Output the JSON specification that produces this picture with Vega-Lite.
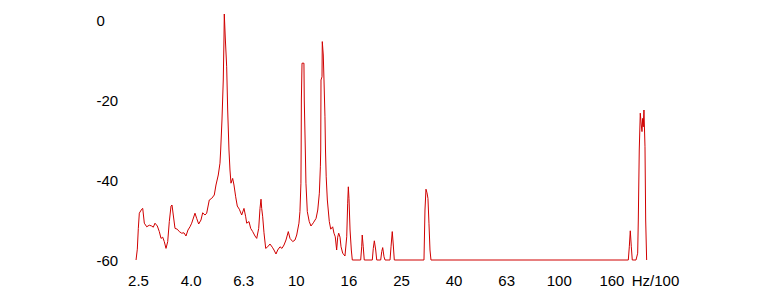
{
  "$schema": "https://vega.github.io/schema/vega-lite/v6.json",
  "width": 570,
  "height": 250,
  "autosize": "none",
  "padding": {"left": 130, "top": 10, "right": 84, "bottom": 40},
  "background": "white",
  "config": {"view": {"stroke": null}},
  "data": {"values": [
    {"f": 2.469, "db": -60}, {"f": 2.497, "db": -57.3}, {"f": 2.519, "db": -52.1}, {"f": 2.541, "db": -48.3},
    {"f": 2.595, "db": -47.3}, {"f": 2.618, "db": -47.1}, {"f": 2.655, "db": -50.8}, {"f": 2.711, "db": -51.7},
    {"f": 2.773, "db": -51.3}, {"f": 2.832, "db": -51.5}, {"f": 2.872, "db": -51.8}, {"f": 2.915, "db": -50.8},
    {"f": 2.975, "db": -51.5}, {"f": 3.027, "db": -52.9}, {"f": 3.073, "db": -54.6}, {"f": 3.119, "db": -54.3},
    {"f": 3.162, "db": -55.4}, {"f": 3.210, "db": -57.1}, {"f": 3.258, "db": -55.4}, {"f": 3.304, "db": -50.4},
    {"f": 3.354, "db": -46.5}, {"f": 3.383, "db": -46.25}, {"f": 3.421, "db": -48.75}, {"f": 3.473, "db": -52.1},
    {"f": 3.543, "db": -52.3}, {"f": 3.606, "db": -52.9}, {"f": 3.682, "db": -53.3}, {"f": 3.757, "db": -53.2},
    {"f": 3.823, "db": -54}, {"f": 3.891, "db": -52.5}, {"f": 3.960, "db": -51.7}, {"f": 4.019, "db": -50.8},
    {"f": 4.137, "db": -48.3}, {"f": 4.199, "db": -49.6}, {"f": 4.273, "db": -51}, {"f": 4.360, "db": -50},
    {"f": 4.425, "db": -48.2}, {"f": 4.515, "db": -48.75}, {"f": 4.583, "db": -48.3}, {"f": 4.689, "db": -45},
    {"f": 4.788, "db": -44.6}, {"f": 4.898, "db": -43.75}, {"f": 4.972, "db": -41.25}, {"f": 5.073, "db": -38.75},
    {"f": 5.149, "db": -35.8}, {"f": 5.181, "db": -32.5}, {"f": 5.240, "db": -25}, {"f": 5.300, "db": -15},
    {"f": 5.333, "db": -4.5}, {"f": 5.347, "db": 1.5}, {"f": 5.394, "db": -4.5}, {"f": 5.460, "db": -11.7},
    {"f": 5.508, "db": -22.5}, {"f": 5.571, "db": -32.5}, {"f": 5.620, "db": -37.5}, {"f": 5.670, "db": -40.8},
    {"f": 5.754, "db": -39.6}, {"f": 5.820, "db": -41.25}, {"f": 5.908, "db": -44.2}, {"f": 5.991, "db": -46.5},
    {"f": 6.097, "db": -47.3}, {"f": 6.227, "db": -48.75}, {"f": 6.354, "db": -47.1}, {"f": 6.449, "db": -49.2},
    {"f": 6.506, "db": -50.8}, {"f": 6.638, "db": -50.4}, {"f": 6.738, "db": -52.1}, {"f": 6.857, "db": -52.9},
    {"f": 6.997, "db": -54}, {"f": 7.102, "db": -54.6}, {"f": 7.227, "db": -52.1}, {"f": 7.310, "db": -47.1},
    {"f": 7.374, "db": -44.8}, {"f": 7.419, "db": -47.1}, {"f": 7.484, "db": -49.2}, {"f": 7.570, "db": -53.2},
    {"f": 7.683, "db": -57.1}, {"f": 7.819, "db": -56.7}, {"f": 7.978, "db": -56}, {"f": 8.140, "db": -56.8},
    {"f": 8.262, "db": -57.5}, {"f": 8.408, "db": -58.5}, {"f": 8.534, "db": -57.5}, {"f": 8.708, "db": -56.7},
    {"f": 8.862, "db": -57.1}, {"f": 9.019, "db": -56.25}, {"f": 9.178, "db": -55}, {"f": 9.365, "db": -52.9},
    {"f": 9.506, "db": -54.6}, {"f": 9.735, "db": -55.4}, {"f": 9.930, "db": -55}, {"f": 10.08, "db": -53.75},
    {"f": 10.28, "db": -50.8}, {"f": 10.37, "db": -47.9}, {"f": 10.46, "db": -40.8}, {"f": 10.48, "db": -32.5},
    {"f": 10.50, "db": -20}, {"f": 10.56, "db": -10.8}, {"f": 10.74, "db": -10.8}, {"f": 10.77, "db": -20},
    {"f": 10.87, "db": -32.5}, {"f": 10.93, "db": -40.8}, {"f": 11.06, "db": -47.9}, {"f": 11.25, "db": -50.4},
    {"f": 11.42, "db": -51.5}, {"f": 11.66, "db": -50.7}, {"f": 11.94, "db": -49.6}, {"f": 12.12, "db": -47.5},
    {"f": 12.29, "db": -43.3}, {"f": 12.40, "db": -36.7}, {"f": 12.44, "db": -32.5}, {"f": 12.47, "db": -15},
    {"f": 12.58, "db": -14.2}, {"f": 12.61, "db": -5.4}, {"f": 12.72, "db": -8.75}, {"f": 12.80, "db": -15},
    {"f": 12.91, "db": -24.2}, {"f": 12.97, "db": -32.5}, {"f": 13.05, "db": -39.2}, {"f": 13.18, "db": -45},
    {"f": 13.41, "db": -50.4}, {"f": 13.58, "db": -52.3}, {"f": 13.81, "db": -51.7}, {"f": 13.97, "db": -53.3},
    {"f": 14.13, "db": -54.2}, {"f": 14.30, "db": -57.5}, {"f": 14.43, "db": -54.3}, {"f": 14.56, "db": -53.3},
    {"f": 14.73, "db": -54.3}, {"f": 14.86, "db": -56.7}, {"f": 15.08, "db": -58.3}, {"f": 15.38, "db": -59},
    {"f": 15.62, "db": -54.2}, {"f": 15.75, "db": -45.8}, {"f": 15.84, "db": -41.7}, {"f": 15.93, "db": -44.6},
    {"f": 16.08, "db": -52.5}, {"f": 16.26, "db": -57.5}, {"f": 16.40, "db": -60}, {"f": 17.65, "db": -60},
    {"f": 17.81, "db": -56.7}, {"f": 17.89, "db": -53.75}, {"f": 18.05, "db": -56.7}, {"f": 18.21, "db": -60},
    {"f": 19.54, "db": -60}, {"f": 19.71, "db": -57.1}, {"f": 19.89, "db": -55.2}, {"f": 20.13, "db": -57.5},
    {"f": 20.31, "db": -60}, {"f": 21.03, "db": -60}, {"f": 21.22, "db": -57.9}, {"f": 21.40, "db": -56.9},
    {"f": 21.65, "db": -59.2}, {"f": 21.84, "db": -60}, {"f": 22.82, "db": -60}, {"f": 23.02, "db": -56.7},
    {"f": 23.27, "db": -52.9}, {"f": 23.48, "db": -56.25}, {"f": 23.69, "db": -60}, {"f": 30.72, "db": -60},
    {"f": 30.99, "db": -47.5}, {"f": 31.26, "db": -42.3}, {"f": 31.54, "db": -43.2}, {"f": 31.81, "db": -44.6},
    {"f": 32.09, "db": -50.8}, {"f": 32.38, "db": -57.5}, {"f": 32.66, "db": -60}, {"f": 183.8, "db": -60},
    {"f": 185.4, "db": -56.7}, {"f": 187.0, "db": -52.7}, {"f": 188.7, "db": -56.7}, {"f": 190.3, "db": -60},
    {"f": 196.6, "db": -60}, {"f": 199.5, "db": -58.3}, {"f": 200.6, "db": -50}, {"f": 202.3, "db": -32.5},
    {"f": 204.1, "db": -23.3}, {"f": 205.9, "db": -26.25}, {"f": 207.2, "db": -27.9}, {"f": 208.4, "db": -24.6},
    {"f": 209.5, "db": -26.7}, {"f": 210.8, "db": -22.5}, {"f": 212.7, "db": -31.7}, {"f": 214.0, "db": -50},
    {"f": 215.8, "db": -60}
  ]},
  "mark": {"type": "line", "color": "#d00000", "strokeWidth": 1, "interpolate": "linear"},
  "encoding": {
    "x": {
      "field": "f", "type": "quantitative", "sort": null,
      "scale": {"type": "log", "domain": [2.342, 344.3], "nice": false},
      "axis": {
        "orient": "bottom", "domain": false, "ticks": false, "tickSize": 0, "grid": false,
        "values": [2.512, 3.981, 6.310, 10, 15.85, 25.12, 39.81, 63.10, 100, 158.5],
        "format": ".2r", "labelPadding": 13, "labelFont": "Liberation Sans", "labelFontSize": 15,
        "labelColor": "#000000", "labelFlush": false, "labelOverlap": false,
        "title": "Hz/100", "titleFont": "Liberation Sans", "titleFontSize": 15, "titleFontWeight": "normal",
        "titleColor": "#000000", "titleX": 525, "titleY": 13, "titleAlign": "center", "titleBaseline": "top"
      }
    },
    "y": {
      "field": "db", "type": "quantitative",
      "scale": {"domain": [-60, 2.5], "nice": false, "zero": false},
      "axis": {
        "orient": "left", "domain": false, "ticks": false, "tickSize": 0, "grid": false,
        "values": [0, -20, -40, -60], "labelExpr": "toString(datum.value)",
        "labelAlign": "left", "labelBaseline": "middle",
        "labelPadding": 34, "labelFont": "Liberation Sans", "labelFontSize": 15,
        "labelColor": "#000000", "labelFlush": false, "labelOverlap": false, "title": null
      }
    }
  }
}
